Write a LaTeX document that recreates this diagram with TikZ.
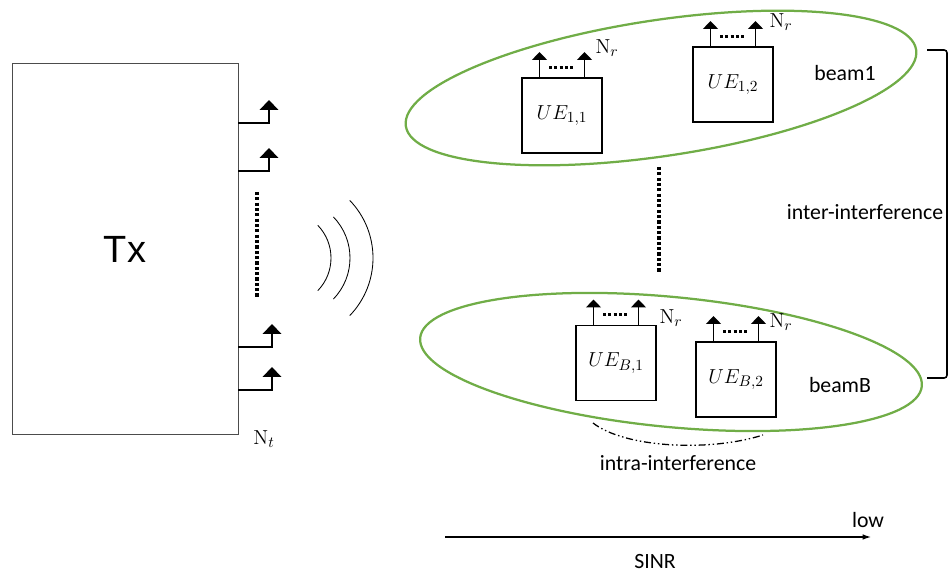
\documentclass[tikz,border=0pt]{standalone}
\usepackage[no-math]{fontspec}
\setmainfont{Carlito}
\newfontfamily\txfont{Liberation Sans}
\usepackage{amsmath}
\usepackage{xcolor}
\usetikzlibrary{arrows.meta,shapes,positioning,calc}
\definecolor{beamgreen}{RGB}{112,173,71}

\begin{document}
\begin{tikzpicture}[scale=0.25,
  ue/.style={draw,line width=1.2pt,minimum width=2cm,minimum height=1.875cm,inner sep=0pt,font=\fontsize{15}{18}\selectfont},
  beam/.style={draw=beamgreen,line width=1.6pt,ellipse,inner sep=0pt},
  ant/.style={line width=1.3pt,-{Triangle[width=13pt,length=7pt]}},
  uant/.style={line width=1.3pt,-{Triangle[width=10.5pt,length=5.5pt]}},
  dots/.style={line width=2.2pt,dash pattern=on 2.2pt off 1.6pt},
  lbl/.style={font=\fontsize{15.5}{18}\selectfont,inner sep=0pt},
  nr/.style={font=\fontsize{15}{17}\selectfont,inner sep=0pt}]
\useasboundingbox (0,0) rectangle (94.9,57.4);

\node[draw=black!70,line width=0.7pt,minimum width=5.65cm,minimum height=9.25cm,inner sep=0pt,font=\txfont\fontsize{27}{30}\selectfont] (tx) at (12.5,32.5) {Tx};
\foreach \y/\x in {45.1/26.9,40.3/26.9,22.7/27.2,18.4/27.2}
  \draw[ant] (tx.east |- 0,\y) -| (\x,{\y+2.3});
\draw[dots] (25.7,38.2) -- (25.7,27.6);
\node[nr] (nt) at (26.4,13.5) {$\mathrm{N}_t$};

\foreach \cx/\r in {28.4/4.7,29.1/5.9,29.0/8.3}
  \draw[line width=0.6pt] (\cx,31.6) ++(-44:\r) arc[start angle=-44,end angle=44,radius=\r];

\node[beam,rotate=8.5,minimum width=12.9cm,minimum height=3.4cm] (beam1) at (66.1,48.6) {};
\node[beam,rotate=-5.5,minimum width=12.6cm,minimum height=3.25cm] (beamB) at (67.1,21.2) {};

\node[ue] (ue11) at (56.2,45.85) {$UE_{1,1}$};
\node[ue] (ue12) at (73.3,48.95) {$UE_{1,2}$};
\node[ue] (ueB1) at (61.6,21.1) {$UE_{B,1}$};
\node[ue] (ueB2) at (73.6,19.45) {$UE_{B,2}$};
\foreach \u in {ue11,ue12,ueB1,ueB2}{
  \draw[uant] ([xshift=-2.25cm]\u.north) -- ++(0,2.5);
  \draw[uant] ([xshift=2.25cm]\u.north) -- ++(0,2.5);
  \draw[dots] ([xshift=-1.3cm,yshift=1cm]\u.north) -- ([xshift=1.3cm,yshift=1cm]\u.north);
}
\node[nr] (nr11) at (60.7,52.6) {$\mathrm{N}_r$};
\node[nr] (nr12) at (78.1,55.2) {$\mathrm{N}_r$};
\node[nr] (nrB1) at (67.1,25.6) {$\mathrm{N}_r$};
\node[nr] (nrB2) at (78.1,25.2) {$\mathrm{N}_r$};

\draw[dots] (65.9,40.7) -- (65.9,30.2);

\node[lbl] (b1lbl) at (84.5,50.1) {beam1};
\node[lbl] (bBlbl) at (84.0,18.9) {beamB};
\node[lbl] (inter) at (86.5,36.2) {inter-interference};
\draw[line width=1.1pt,rounded corners=2pt] (92.7,52.4) -| (94.7,19.6) -- (92.7,19.6);

\draw[line width=0.9pt,dash pattern=on 5pt off 2pt on 1pt off 2pt on 1pt off 2pt] (59.3,15.1) .. controls (62.5,12.6) and (71,12.2) .. (76.3,13.9);
\node[lbl] (intra) at (67.8,11.1) {intra-interference};

\coordinate (sinrA) at (44.5,3.7);
\coordinate (sinrB) at (87.1,3.7);
\draw[line width=0.8pt,-{Latex[length=6pt,width=4pt]}] (sinrA) -- (sinrB);
\node[lbl] (low) at (86.8,5.4) {low};
\node[lbl] (sinr) at (65.5,1.2) {SINR};
\end{tikzpicture}
\end{document}
